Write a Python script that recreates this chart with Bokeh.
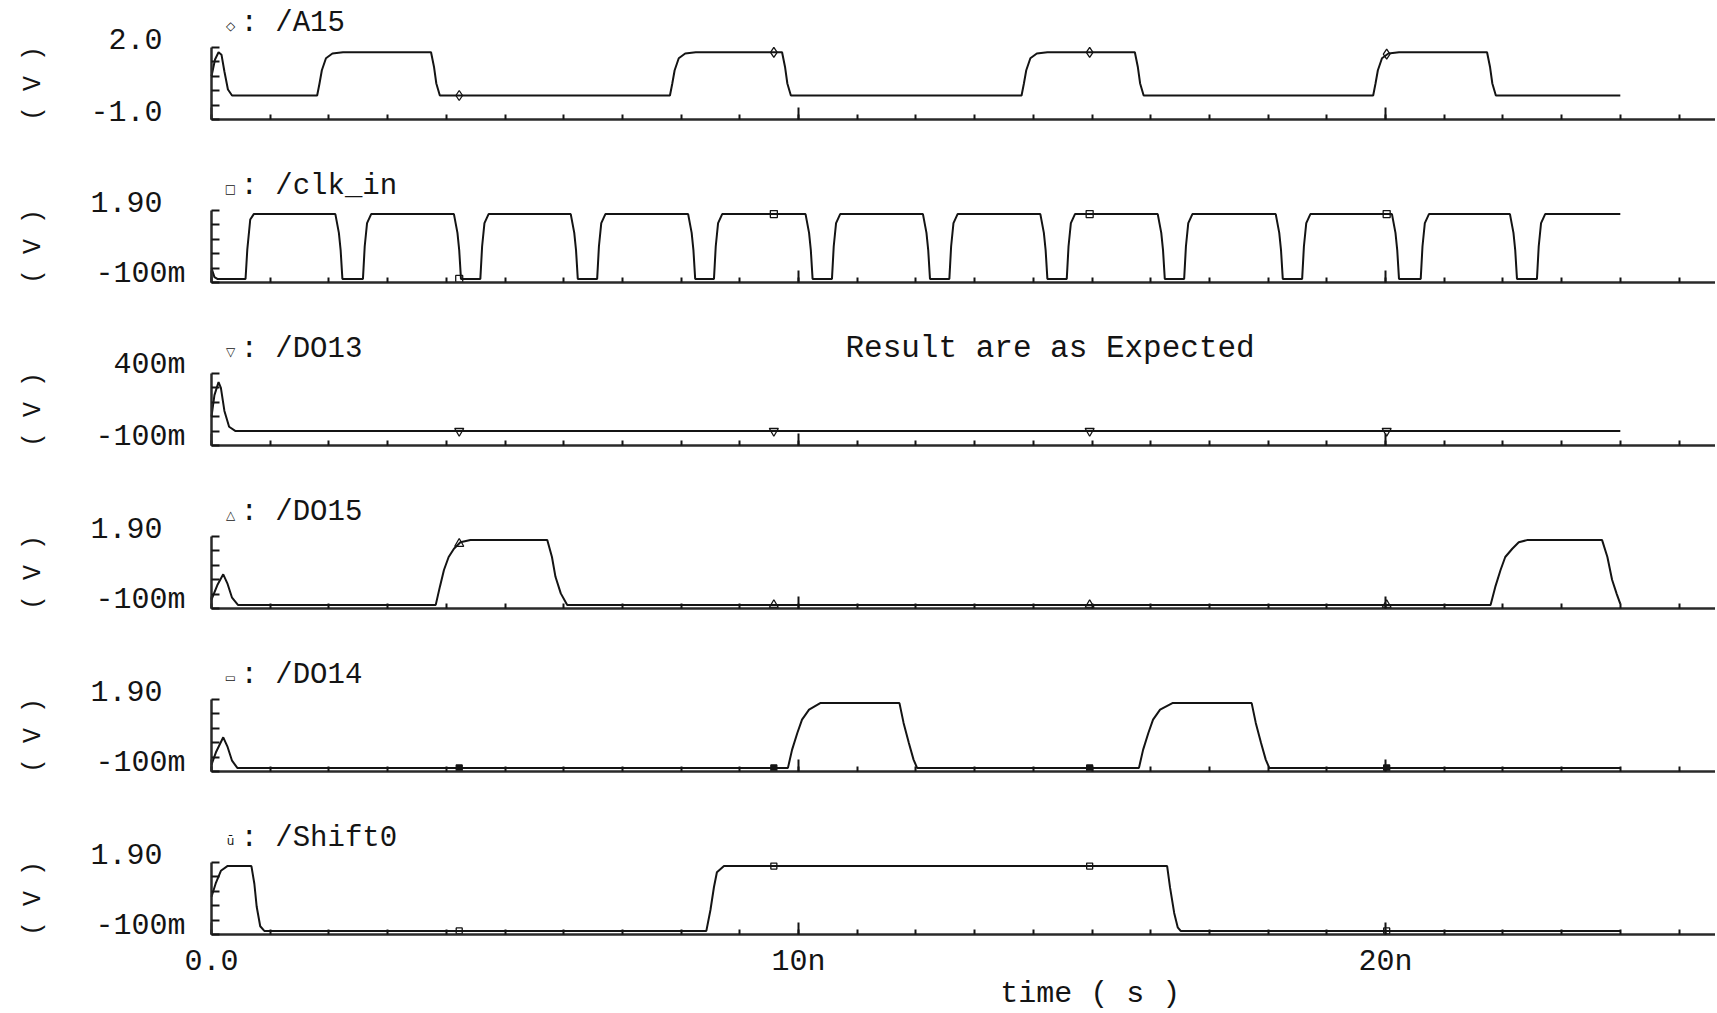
import numpy as np
from bokeh.plotting import figure
from bokeh.models import Range1d, FixedTicker, Label, LinearAxis
from bokeh.embed import file_html
from bokeh.resources import INLINE

FONT = "Liberation Mono"
INK = "#141414"

# ---------------- data (time in ns, voltage in V) ----------------
X_TICKS = [0, 10, 20]
X_TICK_LABELS = ["0.0", "10n", "20n"]
X_MINOR = [0, 1, 2, 3, 4, 5, 6, 7, 8, 9, 10, 11, 12, 13, 14, 15, 16, 17, 18, 19, 20, 21, 22, 23, 24, 25]
X_TITLE = "time ( s )"
Y_UNIT = "( V )"
NOTE = "Result are as Expected"

MARK_T = [4.22, 9.58, 14.96, 20.02]

A15_T = [0.00, 0.06, 0.12, 0.17, 0.22, 0.28, 0.35,
         1.80, 1.84, 1.88, 1.95, 2.06, 2.24, 3.74, 3.79, 3.83, 3.89,
         7.81, 7.85, 7.89, 7.96, 8.07, 8.25, 9.72, 9.77, 9.81, 9.87,
         13.80, 13.84, 13.88, 13.95, 14.06, 14.24, 15.73, 15.78, 15.82, 15.88,
         19.79, 19.83, 19.87, 19.94, 20.05, 20.23, 21.73, 21.78, 21.82, 21.88,
         24.00]
A15_V = [0.80, 1.50, 1.80, 1.70, 1.00, 0.25, 0.00,
         0.00, 0.50, 1.05, 1.55, 1.75, 1.80, 1.80, 1.20, 0.50, 0.00,
         0.00, 0.50, 1.05, 1.55, 1.75, 1.80, 1.80, 1.20, 0.50, 0.00,
         0.00, 0.50, 1.05, 1.55, 1.75, 1.80, 1.80, 1.20, 0.50, 0.00,
         0.00, 0.50, 1.05, 1.55, 1.75, 1.80, 1.80, 1.20, 0.50, 0.00,
         0.00]
A15_MARK = [0.00, 1.80, 1.80, 1.72]
A15_YTICKS = [-1.0, -0.4, 0.2, 0.8, 1.4, 2.0]

CLK_T = [0.00, 0.05, 0.10, 0.58, 0.61, 0.66, 0.72,
         2.11, 2.17, 2.20, 2.23, 2.58, 2.61, 2.65, 2.72,
         4.13, 4.19, 4.22, 4.25, 4.58, 4.61, 4.65, 4.72,
         6.12, 6.18, 6.21, 6.24, 6.57, 6.60, 6.64, 6.71,
         8.12, 8.18, 8.21, 8.24, 8.56, 8.59, 8.63, 8.70,
         10.12, 10.18, 10.21, 10.24, 10.57, 10.60, 10.64, 10.71,
         12.12, 12.18, 12.21, 12.24, 12.57, 12.60, 12.64, 12.71,
         14.12, 14.18, 14.21, 14.24, 14.57, 14.60, 14.64, 14.71,
         16.12, 16.18, 16.21, 16.24, 16.57, 16.60, 16.64, 16.71,
         18.13, 18.19, 18.22, 18.25, 18.58, 18.61, 18.65, 18.72,
         20.11, 20.17, 20.20, 20.23, 20.60, 20.63, 20.67, 20.74,
         22.12, 22.18, 22.21, 22.24, 22.58, 22.61, 22.65, 22.72,
         24.00]
CLK_V = [0.30, 0.05, 0.00, 0.00, 0.82, 1.65, 1.80,
         1.80, 1.28, 0.80, 0.00, 0.00, 0.90, 1.55, 1.80,
         1.80, 1.28, 0.80, 0.00, 0.00, 0.90, 1.55, 1.80,
         1.80, 1.28, 0.80, 0.00, 0.00, 0.90, 1.55, 1.80,
         1.80, 1.28, 0.80, 0.00, 0.00, 0.90, 1.55, 1.80,
         1.80, 1.28, 0.80, 0.00, 0.00, 0.90, 1.55, 1.80,
         1.80, 1.28, 0.80, 0.00, 0.00, 0.90, 1.55, 1.80,
         1.80, 1.28, 0.80, 0.00, 0.00, 0.90, 1.55, 1.80,
         1.80, 1.28, 0.80, 0.00, 0.00, 0.90, 1.55, 1.80,
         1.80, 1.28, 0.80, 0.00, 0.00, 0.90, 1.55, 1.80,
         1.80, 1.28, 0.80, 0.00, 0.00, 0.90, 1.55, 1.80,
         1.80, 1.28, 0.80, 0.00, 0.00, 0.90, 1.55, 1.80,
         1.80]
CLK_MARK = [0.00, 1.80, 1.80, 1.80]
STD_YTICKS = [-0.1, 0.3, 0.7, 1.1, 1.5, 1.9]

DO13_T = [0.00, 0.05, 0.12, 0.16, 0.22, 0.30, 0.41, 24.00]
DO13_V = [0.10, 0.25, 0.34, 0.30, 0.14, 0.03, 0.00, 0.00]
DO13_MARK = [0.00, 0.00, 0.00, 0.00]
DO13_YTICKS = [-0.1, 0.0, 0.1, 0.2, 0.3, 0.4]

DO15_T = [0.00, 0.10, 0.20, 0.27, 0.35, 0.45,
          3.82, 3.89, 3.96, 4.04, 4.13, 4.24, 4.41, 5.72, 5.80, 5.86, 5.95, 6.06,
          21.79, 21.87, 21.96, 22.04, 22.16, 22.27, 22.41, 23.69, 23.78, 23.86, 23.94, 24.00]
DO15_V = [0.15, 0.55, 0.85, 0.60, 0.20, 0.00,
          0.00, 0.50, 0.97, 1.33, 1.56, 1.74, 1.80, 1.80, 1.33, 0.78, 0.32, 0.00,
          0.00, 0.50, 0.97, 1.33, 1.56, 1.74, 1.80, 1.80, 1.33, 0.70, 0.30, 0.03]
DO15_MARK = [1.70, 0.00, 0.00, 0.00]

DO14_T = [0.00, 0.08, 0.20, 0.27, 0.35, 0.44,
          9.82, 9.89, 9.98, 10.06, 10.18, 10.37, 11.72, 11.79, 11.88, 11.96, 12.02,
          15.80, 15.87, 15.96, 16.04, 16.16, 16.37, 17.72, 17.79, 17.88, 17.96, 18.02,
          24.00]
DO14_V = [0.09, 0.45, 0.85, 0.60, 0.20, 0.00,
          0.00, 0.50, 0.97, 1.34, 1.62, 1.80, 1.80, 1.25, 0.69, 0.23, 0.00,
          0.00, 0.50, 0.97, 1.34, 1.62, 1.80, 1.80, 1.25, 0.69, 0.23, 0.00,
          0.00]
DO14_MARK = [0.00, 0.00, 0.00, 0.00]

SHIFT_T = [0.00, 0.07, 0.16, 0.27, 0.68, 0.73, 0.77, 0.83, 0.90,
           8.43, 8.50, 8.56, 8.61, 8.73, 16.28, 16.33, 16.40, 16.46, 16.51, 24.00]
SHIFT_V = [0.95, 1.31, 1.67, 1.80, 1.80, 1.31, 0.67, 0.13, 0.00,
           0.00, 0.58, 1.22, 1.63, 1.80, 1.80, 1.20, 0.50, 0.10, 0.00, 0.00]
SHIFT_MARK = [0.00, 1.80, 1.80, 0.00]

PANELS = [
    dict(name="/A15", sym="\u25C7", t=A15_T, v=A15_V, lo=-1.0, hi=2.0, yt=A15_YTICKS,
         lab_hi="2.0", lab_lo="-1.0", marker="diamond", mv=A15_MARK, filled=False, msize=10),
    dict(name="/clk_in", sym="\u25A1", t=CLK_T, v=CLK_V, lo=-0.1, hi=1.9, yt=STD_YTICKS,
         lab_hi="1.90", lab_lo="-100m", marker="square", mv=CLK_MARK, filled=False, msize=7),
    dict(name="/DO13", sym="\u25BD", t=DO13_T, v=DO13_V, lo=-0.1, hi=0.4, yt=DO13_YTICKS,
         lab_hi="400m", lab_lo="-100m", marker="inverted_triangle", mv=DO13_MARK, filled=False, msize=9),
    dict(name="/DO15", sym="\u25B3", t=DO15_T, v=DO15_V, lo=-0.1, hi=1.9, yt=STD_YTICKS,
         lab_hi="1.90", lab_lo="-100m", marker="triangle", mv=DO15_MARK, filled=False, msize=9),
    dict(name="/DO14", sym="\u25AD", t=DO14_T, v=DO14_V, lo=-0.1, hi=1.9, yt=STD_YTICKS,
         lab_hi="1.90", lab_lo="-100m", marker="square", mv=DO14_MARK, filled=True, msize=6),
    dict(name="/Shift0", sym="\u016B", t=SHIFT_T, v=SHIFT_V, lo=-0.1, hi=1.9, yt=STD_YTICKS,
         lab_hi="1.90", lab_lo="-100m", marker="square", mv=SHIFT_MARK, filled=False, msize=6),
]

# ---------------- layout (one canvas, one y range per waveform strip) ----------------
W, H = 1715, 1010
X0_PX = 211          # canvas x of t = 0
PX_PER_NS = 58.7
STRIP_TOP0 = 47      # canvas y of first strip's top
STRIP_STEP = 163
STRIP_H = 72
X_END = (W - X0_PX) / PX_PER_NS

p = figure(width=W, height=H,
           x_range=Range1d(-X0_PX / PX_PER_NS, X_END), y_range=Range1d(0, 1),
           x_axis_location=None, y_axis_location=None,
           output_backend="svg", toolbar_location=None, min_border=0)
p.title.visible = False
p.outline_line_color = None
p.xgrid.visible = False
p.ygrid.visible = False
p.background_fill_color = "white"
p.border_fill_color = "white"

ranges = {}
for i, pnl in enumerate(PANELS):
    top_px = STRIP_TOP0 + STRIP_STEP * i
    bot_px = top_px + STRIP_H
    vpp = (pnl["hi"] - pnl["lo"]) / STRIP_H
    ranges["s%d" % i] = Range1d(pnl["lo"] - (H - bot_px) * vpp, pnl["hi"] + top_px * vpp)
p.extra_y_ranges = ranges


def style_axis(ax):
    ax.axis_line_width = 2.5
    ax.axis_line_color = "#2a2a2a"
    ax.major_tick_out = 0
    ax.minor_tick_out = 0
    ax.major_tick_line_width = 2
    ax.minor_tick_line_width = 2
    ax.major_tick_line_color = INK
    ax.minor_tick_line_color = INK


n = len(PANELS)
for i, pnl in enumerate(PANELS):
    rn = "s%d" % i
    lo, hi = pnl["lo"], pnl["hi"]

    # vertical axis at t = 0, spanning only the strip
    ya = LinearAxis(y_range_name=rn, fixed_location=0, bounds=(lo, hi),
                    ticker=FixedTicker(ticks=[], minor_ticks=pnl["yt"]))
    style_axis(ya)
    ya.major_tick_in = 0
    ya.minor_tick_in = 8
    p.add_layout(ya, "left")

    # time axis along the strip bottom
    if i == n - 1:
        xa = LinearAxis(y_range_name=rn, fixed_location=lo, bounds=(0, X_END),
                        ticker=FixedTicker(ticks=X_TICKS, minor_ticks=X_MINOR))
        style_axis(xa)
        xa.major_tick_in = 12
        xa.minor_tick_in = 5
        xa.major_label_overrides = {tk: lb for tk, lb in zip(X_TICKS, X_TICK_LABELS)}
        xa.major_label_text_font = FONT
        xa.major_label_text_font_size = "30px"
        xa.major_label_text_color = INK
        xa.major_label_standoff = 10
        p.add_layout(xa, "below")
    else:
        xa = LinearAxis(y_range_name=rn, fixed_location=lo, bounds=(0, X_END),
                        ticker=FixedTicker(ticks=[], minor_ticks=X_MINOR))
        style_axis(xa)
        xa.major_tick_in = 0
        xa.minor_tick_in = 5
        p.add_layout(xa, "below")
        xm = LinearAxis(y_range_name=rn, fixed_location=lo, bounds=(0, X_END),
                        ticker=FixedTicker(ticks=[], minor_ticks=X_TICKS))
        style_axis(xm)
        xm.axis_line_color = None
        xm.major_tick_in = 0
        xm.minor_tick_in = 12
        p.add_layout(xm, "below")

    p.line(pnl["t"], pnl["v"], y_range_name=rn, line_color=INK, line_width=2)
    p.scatter(MARK_T, pnl["mv"], y_range_name=rn, marker=pnl["marker"], size=pnl["msize"],
              line_color=INK, line_width=1.3,
              fill_color=INK if pnl["filled"] else None)

    # range labels (top and bottom only, as in the waveform viewer)
    for val, txt in ((hi, pnl["lab_hi"]), (lo, pnl["lab_lo"])):
        off = -26 if txt.endswith("m") else -49
        p.add_layout(Label(x=0, y=val, y_range_name=rn, x_offset=off, y_offset=9, text=txt,
                           text_align="right", text_baseline="middle",
                           text_font=FONT, text_font_size="30px", text_color=INK))
    # unit label
    p.add_layout(Label(x=0, y=(lo + hi) / 2, y_range_name=rn, x_offset=-178, text=Y_UNIT,
                       angle=np.pi / 2, text_align="center", text_baseline="middle",
                       text_font=FONT, text_font_size="25px", text_color=INK))
    # trace name with its marker symbol
    p.add_layout(Label(x=0, y=hi, y_range_name=rn, x_offset=19, y_offset=22, text=pnl["sym"],
                       text_align="center", text_baseline="middle",
                       text_font="DejaVu Sans", text_font_size="12px", text_color=INK))
    p.add_layout(Label(x=0, y=hi, y_range_name=rn, x_offset=29, y_offset=24, text=": " + pnl["name"],
                       text_align="left", text_baseline="middle",
                       text_font=FONT, text_font_size="29px", text_color=INK))
    if i == 2:
        p.add_layout(Label(x=10.8, y=hi, y_range_name=rn, y_offset=25, text=NOTE,
                           text_align="left", text_baseline="middle",
                           text_font=FONT, text_font_size="31px", text_color=INK))
    if i == n - 1:
        p.add_layout(Label(x=14.97, y=lo, y_range_name=rn, y_offset=-59, text=X_TITLE,
                           text_align="center", text_baseline="middle",
                           text_font=FONT, text_font_size="30px", text_color=INK))

open("out.html", "w").write(file_html(p, INLINE))
